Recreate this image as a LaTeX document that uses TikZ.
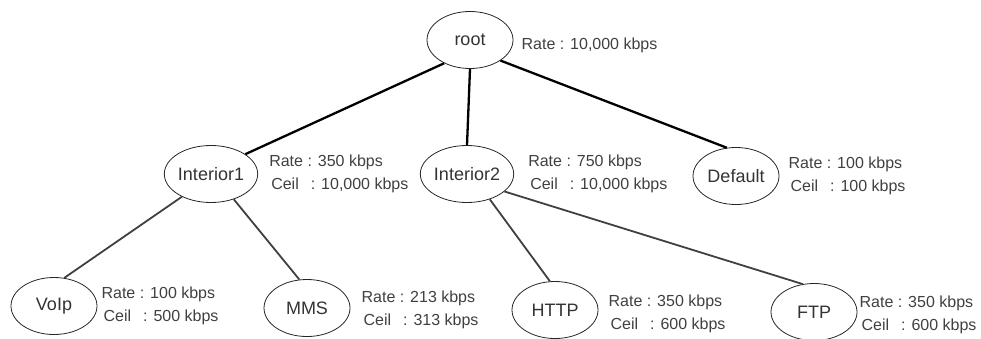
\documentclass[tikz,border=0pt]{standalone}
\usepackage{fontspec}
\setmainfont{Liberation Sans}
\usetikzlibrary{shapes.geometric,positioning}

\begin{document}
\begin{tikzpicture}[x=1pt,y=-1pt,
    trunk/.style={draw=black,line width=2.3pt},
    branch/.style={draw=black!75,line width=1.8pt}]

        \useasboundingbox (0,0) rectangle (981,338);

        \begin{scope}[every node/.style={ellipse,draw=black!85,line width=0.8pt,
            minimum width=86pt,minimum height=57pt,inner sep=0pt,
            font=\fontsize{18}{20}\selectfont,text=black!80}]
          \node (root) at (470,40)  {root};
          \node (int1) at (211,174) {Interior1};
          \node (int2) at (467,174) {Interior2};
          \node (dflt) at (736,176) {Default};
          \node (voip) at (54,306)  {VoIp};
          \node (mms)  at (307,308) {MMS};
          \node (http) at (555,310) {HTTP};
          \node (ftp)  at (814,312) {FTP};
        \end{scope}

        \begin{scope}[every node/.style={align=left,inner sep=0pt,
            font=\fontsize{16}{23}\selectfont,text=black!75}]
          \node[right=8pt of root,yshift=-5pt]  (rootinfo) {Rate : 10,000 kbps};
          \node[right=11pt of int1] (int1info) {Rate : 350 kbps\\\hspace{2pt}Ceil\hspace{12pt}: 10,000 kbps};
          \node[right=14pt of int2] (int2info) {Rate : 750 kbps\\\hspace{2pt}Ceil\hspace{12pt}: 10,000 kbps};
          \node[right=9pt of dflt]  (dfltinfo) {Rate : 100 kbps\\\hspace{2pt}Ceil\hspace{12pt}: 100 kbps};
          \node[right=4pt of voip]  (voipinfo) {Rate : 100 kbps\\\hspace{2pt}Ceil\hspace{12pt}: 500 kbps};
          \node[right=11pt of mms,yshift=-2pt]  (mmsinfo) {Rate : 213 kbps\\\hspace{2pt}Ceil\hspace{12pt}: 313 kbps};
          \node[right=10pt of http,yshift=-4pt] (httpinfo) {Rate : 350 kbps\\\hspace{2pt}Ceil\hspace{12pt}: 600 kbps};
          \node[right=2pt of ftp,yshift=-3pt]   (ftpinfo) {Rate : 350 kbps\\\hspace{2pt}Ceil\hspace{12pt}: 600 kbps};
        \end{scope}

        % links
        \path (root.222) edge[trunk] (int1.30);
        \path (root.south) edge[trunk] (int2.north);
        \path (root.-34) edge[trunk] (dflt.108);
        \path (int1.218) edge[branch] (voip.70);
        \path (int1.312) edge[branch] (mms.105);
        \path (int2.312) edge[branch] (http.100);
        \path (int2.335) edge[branch] (ftp.112);

\end{tikzpicture}
\end{document}
